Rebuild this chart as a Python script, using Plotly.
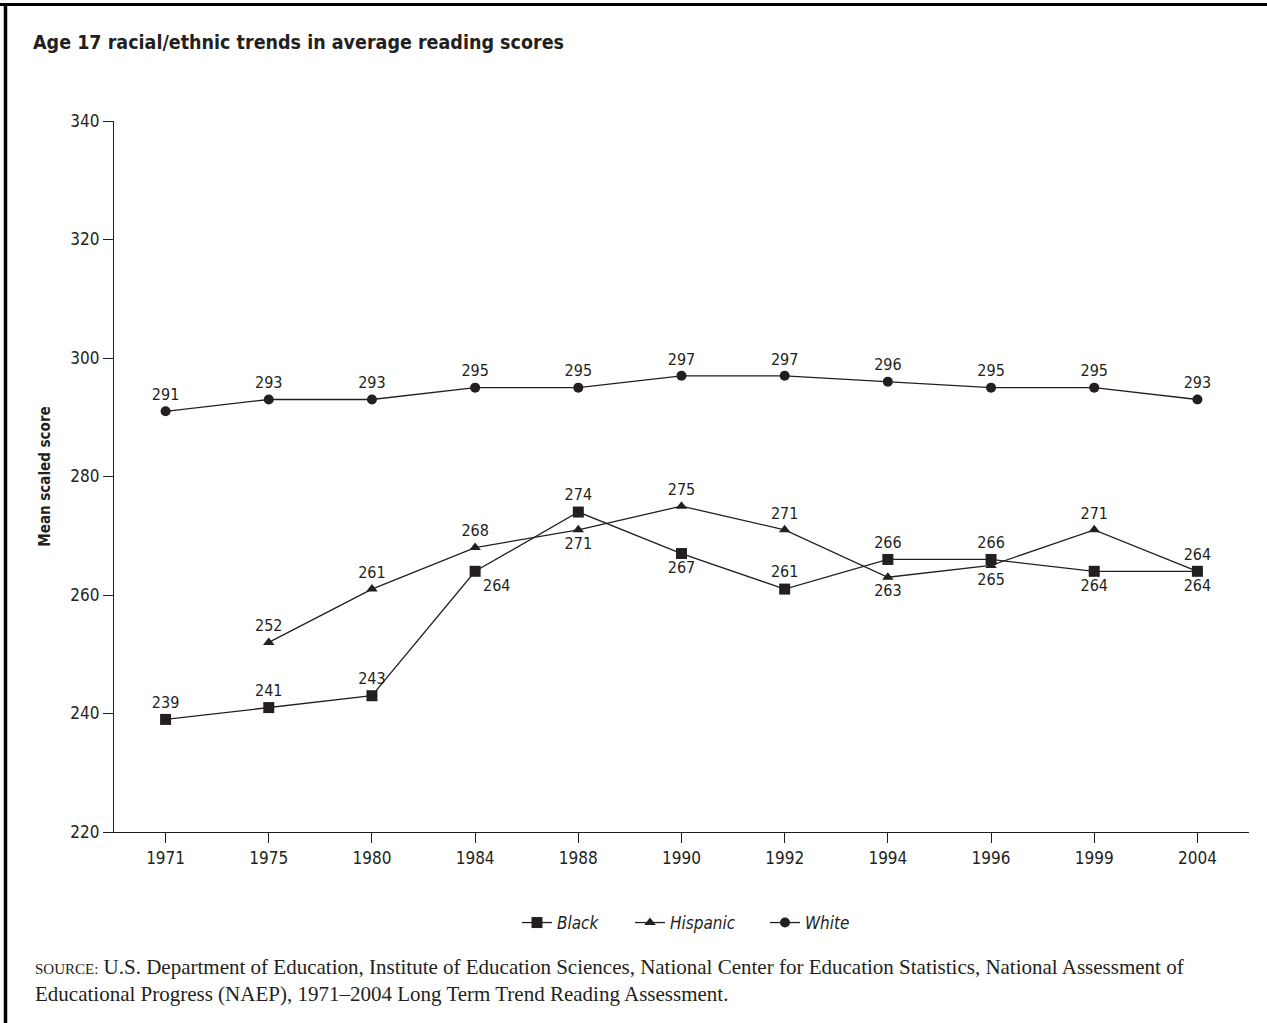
import plotly.graph_objects as go

# NAEP long-term trend reading, age 17
years = ["1971", "1975", "1980", "1984", "1988", "1990", "1992", "1994", "1996", "1999", "2004"]
black = [239, 241, 243, 264, 274, 267, 261, 266, 266, 264, 264]
hispanic = [None, 252, 261, 268, 271, 275, 271, 263, 265, 271, 264]
white = [291, 293, 293, 295, 295, 297, 297, 296, 295, 295, 293]

y_ticks = [220, 240, 260, 280, 300, 320, 340]

# where each value label sits relative to its marker
black_pos = ["top center", "top center", "top center", "bottom right", "top center",
             "bottom center", "top center", "top center", "top center", "bottom center",
             "bottom center"]
hisp_pos = ["top center", "top center", "top center", "top center", "bottom center",
            "top center", "top center", "bottom center", "bottom center", "top center",
            "top center"]

INK = "#231f20"
NARROW = "DejaVu Sans Condensed, Liberation Sans Narrow, Arial Narrow, sans-serif"
SERIF = "Liberation Serif, Times New Roman, serif"

# plot-area geometry in pixels (used to place notes and legends)
L, R, T, B = 114, 1249, 121, 832
PW, PH = R - L, B - T


def px_x(px):
    return (px - L) / PW


def px_y(py):
    return (B - py) / PH


def labels(vals):
    return ["" if v is None else str(v) for v in vals]


fig = go.Figure()

series = [
    ("Black", black, "square", 11, black_pos, "legend"),
    ("Hispanic", hispanic, "triangle-up", 10, hisp_pos, "legend2"),
    ("White", white, "circle", 10, "top center", "legend3"),
]
for name, vals, sym, size, pos, leg in series:
    fig.add_trace(go.Scatter(
        x=years, y=vals, name=name, mode="lines+markers+text",
        line=dict(color=INK, width=1.3),
        marker=dict(symbol=sym, size=size, color=INK),
        text=labels(vals), textposition=pos,
        textfont=dict(family=NARROW, size=16, color=INK),
        legend=leg,
    ))

legend_font = dict(family=NARROW, size=17, color=INK, style="italic")
legend_common = dict(orientation="h", xanchor="left", yanchor="middle",
                     y=px_y(923), font=legend_font, itemwidth=30,
                     bgcolor="rgba(0,0,0,0)")

fig.update_layout(
    width=1267, height=1023,
    margin=dict(l=L, r=1267 - R, t=T, b=1023 - B),
    paper_bgcolor="white", plot_bgcolor="white",
    font=dict(family=NARROW, color=INK),
    title=dict(
        text="<b>Age 17 racial/ethnic trends in average reading scores</b>",
        xref="container", yref="container", x=33 / 1267, y=1 - 42 / 1023,
        xanchor="left", yanchor="middle",
        font=dict(family=NARROW, size=19.5, color=INK),
    ),
    showlegend=True,
    legend=dict(x=px_x(517), **legend_common),
    legend2=dict(x=px_x(630), **legend_common),
    legend3=dict(x=px_x(765), **legend_common),
)

fig.update_xaxes(
    type="category", range=[-0.5, 10.5],
    showline=True, linecolor=INK, linewidth=1.2,
    ticks="outside", ticklen=10, tickcolor=INK, tickwidth=1.2,
    tickfont=dict(family=NARROW, size=17, color=INK),
    showgrid=False, zeroline=False,
)
fig.update_yaxes(
    range=[220, 340], tickvals=y_ticks,
    showline=True, linecolor=INK, linewidth=1.2,
    ticks="outside", ticklen=10, tickcolor=INK, tickwidth=1.2,
    tickfont=dict(family=NARROW, size=17, color=INK),
    showgrid=False, zeroline=False,
    title=dict(text="<b>Mean scaled score</b>", font=dict(family=NARROW, size=15, color=INK),
               standoff=16),
)

# source note
fig.add_annotation(
    xref="paper", yref="paper", x=px_x(33), y=px_y(953),
    xanchor="left", yanchor="top", align="left", showarrow=False,
    text="<span style='font-size:15px'>SOURCE:</span> U.S. Department of Education, Institute of Education Sciences, "
         "National Center for Education Statistics, National Assessment of<br>"
         "Educational Progress (NAEP), 1971\u20132004 Long Term Trend Reading Assessment.",
    font=dict(family=SERIF, size=21, color=INK),
)

# page frame: heavy rule along the top and left edges
fig.add_shape(type="line", xref="paper", yref="paper",
              x0=px_x(0), x1=px_x(1267), y0=px_y(4.5), y1=px_y(4.5),
              line=dict(color="black", width=3))
fig.add_shape(type="line", xref="paper", yref="paper",
              x0=px_x(5.5), x1=px_x(5.5), y0=px_y(1023), y1=px_y(3),
              line=dict(color="black", width=3.5))

fig.write_html("out.html")
